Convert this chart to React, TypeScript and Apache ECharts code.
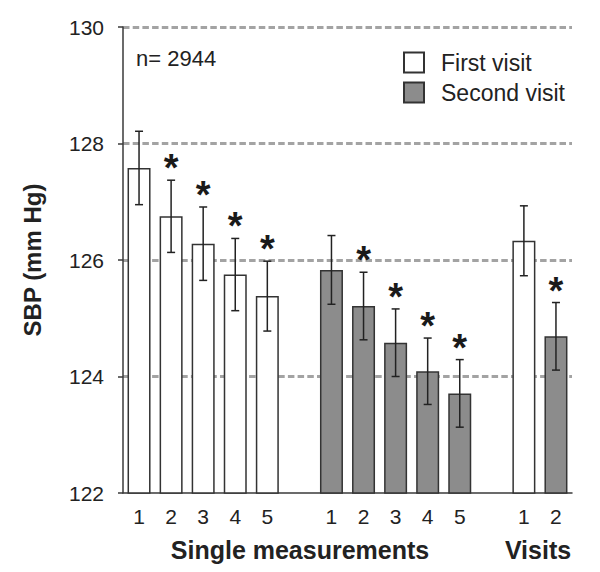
import React, { useEffect, useRef } from "react";
import * as echarts from "echarts";

const FONT = '"Liberation Sans", Arial, Helvetica, sans-serif';

// Slots on the category axis (gaps between groups are empty slots)
const slotIds = ["s1", "s2", "s3", "s4", "s5", "g1", "t1", "t2", "t3", "t4", "t5", "g2", "v1", "v2"];
const tickLabels = ["1", "2", "3", "4", "5", "", "1", "2", "3", "4", "5", "", "1", "2"];

// Single measurements, first visit (slots 0-4)
const firstVisitMeans = [127.58, 126.75, 126.28, 125.75, 125.38];
const firstVisitErr = [0.63, 0.62, 0.63, 0.62, 0.6];
const firstVisitStar = [false, true, true, true, true];

// Single measurements, second visit (slots 6-10)
const secondVisitMeans = [125.83, 125.21, 124.58, 124.09, 123.71];
const secondVisitErr = [0.59, 0.58, 0.58, 0.57, 0.58];
const secondVisitStar = [false, true, true, true, true];

// Visits (slots 12-13): first visit, second visit
const visitMeans = [126.33, 124.69];
const visitErr = [0.6, 0.58];
const visitStar = [false, true];

const firstSlots = [0, 1, 2, 3, 4];
const secondSlots = [6, 7, 8, 9, 10];
const visitSlots = [12, 13];

export default function App() {
  const ref = useRef<HTMLDivElement>(null);

  useEffect(() => {
    const chart = echarts.init(ref.current!, null, { renderer: "svg" });

    const firstBar: any[] = slotIds.map(() => "-");
    const secondBar: any[] = slotIds.map(() => "-");
    const errData: any[] = [];

    firstSlots.forEach((s, i) => {
      firstBar[s] = firstVisitMeans[i];
      errData.push([s, firstVisitMeans[i] - firstVisitErr[i], firstVisitMeans[i] + firstVisitErr[i], firstVisitStar[i] ? 1 : 0]);
    });
    secondSlots.forEach((s, i) => {
      secondBar[s] = secondVisitMeans[i];
      errData.push([s, secondVisitMeans[i] - secondVisitErr[i], secondVisitMeans[i] + secondVisitErr[i], secondVisitStar[i] ? 1 : 0]);
    });
    firstBar[visitSlots[0]] = visitMeans[0];
    secondBar[visitSlots[1]] = visitMeans[1];
    visitSlots.forEach((s, i) => {
      errData.push([s, visitMeans[i] - visitErr[i], visitMeans[i] + visitErr[i], visitStar[i] ? 1 : 0]);
    });

    const axisColor = "#3a3a3a";

    const option: any = {
      animation: false,
      backgroundColor: "#ffffff",
      textStyle: { fontFamily: FONT },
      grid: { left: 123, right: 28, top: 27, bottom: 79, containLabel: false },
      legend: {
        data: ["First visit", "Second visit"],
        orient: "vertical",
        left: 403,
        top: 51,
        padding: 0,
        itemWidth: 20,
        itemHeight: 20,
        itemGap: 7,
        icon: "rect",
        textStyle: { fontSize: 23, color: "#222", fontFamily: FONT, padding: [0, 0, 0, 12] },
      },
      xAxis: {
        type: "category",
        data: slotIds,
        axisLine: { show: true, lineStyle: { color: axisColor, width: 1.5 } },
        axisTick: { show: false },
        axisLabel: {
          interval: 0,
          margin: 13,
          fontSize: 21,
          color: "#222",
          fontFamily: FONT,
          formatter: (_v: string, idx: number) => tickLabels[idx],
        },
        splitLine: { show: false },
      },
      yAxis: {
        type: "value",
        min: 122,
        max: 130,
        interval: 2,
        axisLine: { show: true, lineStyle: { color: axisColor, width: 1.5 } },
        axisTick: { show: true, inside: false, length: 5, lineStyle: { color: axisColor, width: 1.5 } },
        axisLabel: { margin: 19, fontSize: 21, color: "#222", fontFamily: FONT },
        splitLine: {
          show: true,
          showMinLine: false,
          lineStyle: { color: "#a3a3a3", width: 3, type: [6.5, 3.2] },
        },
      },
      series: [
        {
          name: "First visit",
          type: "bar",
          data: firstBar,
          barWidth: 23,
          barGap: "-100%",
          itemStyle: { color: "#ffffff", borderColor: "#333333", borderWidth: 1.5 },
        },
        {
          name: "Second visit",
          type: "bar",
          data: secondBar,
          barWidth: 23,
          barGap: "-100%",
          itemStyle: { color: "#8c8c8c", borderColor: "#333333", borderWidth: 1.5 },
        },
        {
          name: "err",
          type: "custom",
          z: 5,
          encode: { x: 0, y: [1, 2] },
          data: errData,
          renderItem: (_params: any, api: any) => {
            const x = api.value(0);
            const lo = api.value(1);
            const hi = api.value(2);
            const star = api.value(3);
            const pTop = api.coord([x, hi]);
            const pBot = api.coord([x, lo]);
            const hw = 4;
            const st = { stroke: "#222", lineWidth: 1.5 };
            const children: any[] = [
              { type: "line", shape: { x1: pTop[0], y1: pTop[1], x2: pBot[0], y2: pBot[1] }, style: st },
              { type: "line", shape: { x1: pTop[0] - hw, y1: pTop[1], x2: pTop[0] + hw, y2: pTop[1] }, style: st },
              { type: "line", shape: { x1: pBot[0] - hw, y1: pBot[1], x2: pBot[0] + hw, y2: pBot[1] }, style: st },
            ];
            if (star) {
              children.push({
                type: "text",
                x: pTop[0],
                y: pTop[1] - 12,
                style: {
                  text: "*",
                  fill: "#1a1a1a",
                  font: `bold 38px ${FONT}`,
                  align: "center",
                  verticalAlign: "middle",
                },
              });
            }
            return { type: "group", children };
          },
        },
      ],
      graphic: [
        {
          type: "text",
          left: 136,
          top: 47,
          style: { text: "n= 2944", font: `22px ${FONT}`, fill: "#222" },
        },
        {
          type: "text",
          x: 32,
          y: 260,
          rotation: Math.PI / 2,
          style: {
            text: "SBP (mm Hg)",
            font: `bold 24px ${FONT}`,
            fill: "#222",
            align: "center",
            verticalAlign: "middle",
          },
        },
        {
          type: "text",
          x: 300,
          y: 550,
          style: {
            text: "Single measurements",
            font: `bold 25px ${FONT}`,
            fill: "#222",
            align: "center",
            verticalAlign: "middle",
          },
        },
        {
          type: "text",
          x: 538,
          y: 550,
          style: {
            text: "Visits",
            font: `bold 25px ${FONT}`,
            fill: "#222",
            align: "center",
            verticalAlign: "middle",
          },
        },
      ],
    };

    chart.setOption(option);
    return () => chart.dispose();
  }, []);

  return (
    <div
      ref={ref}
      style={{ position: "fixed", left: 0, top: 0, width: 600, height: 572, background: "#fff" }}
    />
  );
}
